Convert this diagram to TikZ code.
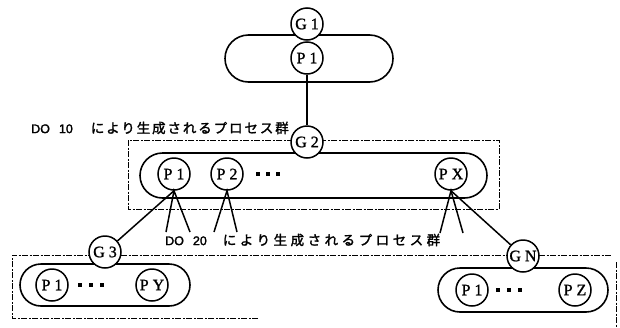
\documentclass[tikz,border=0pt]{standalone}
\usepackage{fontspec}
\setmainfont{Liberation Serif}
\newfontfamily\circfont[FakeBold=1.2]{Liberation Serif}
\newfontfamily\jpfont[FakeBold=1.8,LetterSpace=14]{Noto Sans CJK JP}
\newfontfamily\jpfontb[FakeBold=1.8,LetterSpace=26]{Noto Sans CJK JP}
\newfontfamily\dofont[FakeBold=2]{Liberation Sans}
\usetikzlibrary{shapes.misc}
\begin{document}
\begin{tikzpicture}[x=1pt,y=-1pt,
  proc/.style={circle, draw, fill=white, line width=1.5pt, minimum size=32pt, inner sep=0pt, font=\circfont\fontsize{16}{16}\selectfont},
  stadium/.style={rounded rectangle, draw, line width=1.6pt, inner sep=0pt},
  dbox/.style={draw, line width=0.8pt, dash pattern=on 6pt off 1.5pt on 2pt off 1.5pt},
  link/.style={line width=1.5pt},
  dot/.style={fill, inner sep=0pt, minimum size=4pt, rectangle},
  lab/.style={anchor=west, inner sep=0pt}]
\useasboundingbox (0,0) rectangle (620,327);
% dashed group boxes
\draw[dbox] (128,140) rectangle (499,209);
\draw[dbox] (258,318) -- (12,318) -- (12,255) -- (612,255);
\draw[dbox] (616,262) -- (616,327);
% stadiums
\node[stadium, minimum width=168pt, minimum height=47pt] (S1) at (309,58.5) {};
\node[stadium, minimum width=347pt, minimum height=45pt] (S2) at (313.5,175.5) {};
\node[stadium, minimum width=170pt, minimum height=42pt] (S3) at (105,285) {};
\node[stadium, minimum width=170pt, minimum height=44pt] (S4) at (523,290) {};
% top group
\node[proc] (G1) at (307,24) {G 1};
\node[proc] (P1a) at (307,58) {P 1};
% middle group
\node[proc] (G2) at (307,142) {G 2};
\node[proc] (P1b) at (174,174) {P 1};
\node[proc] (P2b) at (227,174) {P 2};
\node[dot] (d1) at (258,174) {};
\node[dot] (d2) at (268,174) {};
\node[dot] (d3) at (278,174) {};
\node[proc] (PXb) at (451,174) {P X};
% lower left group
\node[proc] (G3) at (105,252) {G 3};
\node[proc] (P1c) at (52,285) {P 1};
\node[dot] (d4) at (80,285) {};
\node[dot] (d5) at (91,285) {};
\node[dot] (d6) at (102,285) {};
\node[proc] (PYc) at (152,285) {P Y};
% lower right group
\node[proc] (GN) at (523,256) {G N};
\node[proc] (P1d) at (472,290) {P 1};
\node[dot] (d7) at (498,290) {};
\node[dot] (d8) at (509,290) {};
\node[dot] (d9) at (520,290) {};
\node[proc] (PZd) at (575,290) {P Z};
% labels
\node[lab] (L1) at (31,128) {{\dofont\fontsize{12.5}{12.5}\selectfont DO\hspace{9pt}10}\hspace{18pt}{\jpfont\fontsize{13.5}{13.5}\selectfont により生成されるプロセス群}};
\node[lab] (L2) at (165,240) {{\dofont\fontsize{12.5}{12.5}\selectfont DO\hspace{9pt}20}\hspace{16pt}{\jpfontb\fontsize{13.5}{13.5}\selectfont により生成されるプロセス群}};
% connectors
\draw[link] (P1a.south) -- (G2.north);
\coordinate (f1) at (166,232);
\coordinate (f2) at (190,232);
\coordinate (f3) at (214,232);
\coordinate (f4) at (237,232);
\coordinate (f5) at (440,233);
\coordinate (f6) at (463,233);
\draw[link] (f1) -- (P1b.south) -- (f2);
\draw[link] (f3) -- (P2b.south) -- (f4);
\draw[link] (f5) -- (PXb.south) -- (f6);
\draw[link] (P1b.south) -- (G3);
\draw[link] (PXb.south) -- (GN);
\end{tikzpicture}
\end{document}
